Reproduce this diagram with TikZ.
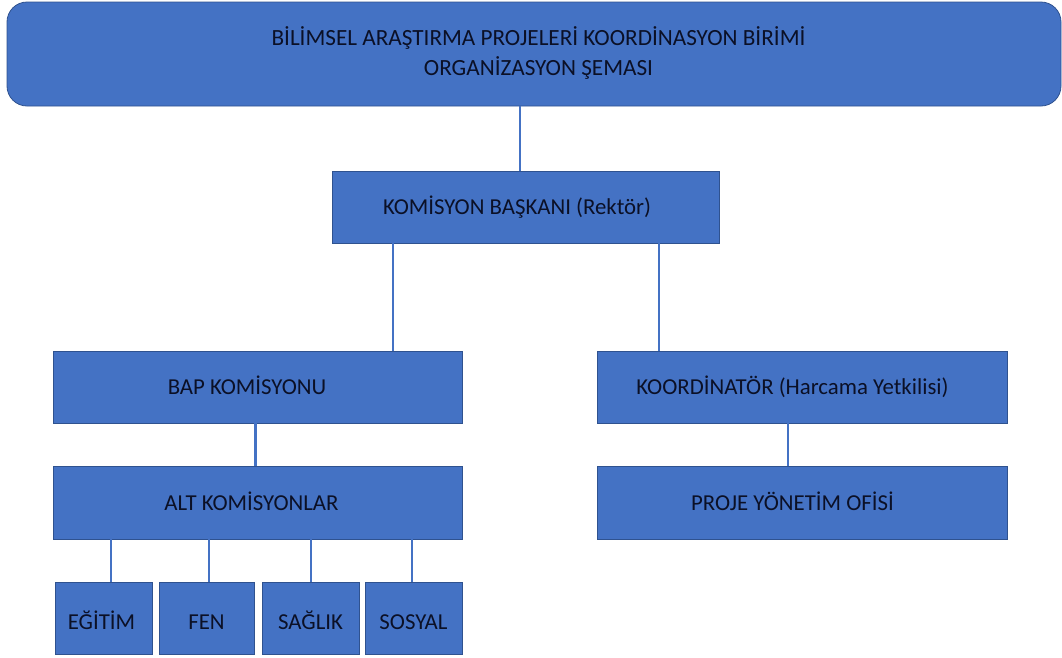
\documentclass[tikz,border=0pt]{standalone}
\usepackage{fontspec}
\setmainfont{Carlito}
\definecolor{boxfill}{HTML}{4472C4}
\definecolor{boxborder}{HTML}{2F528F}
\definecolor{txt}{HTML}{0B1026}
\begin{document}
\begin{tikzpicture}[x=1pt,y=-1pt,
  box/.style={draw=boxborder, line width=0.8pt, fill=boxfill, inner sep=0pt, rectangle},
  lbl/.style={text=txt, font=\fontsize{22.8}{27}\selectfont, inner sep=0pt, text height=15pt, text depth=0pt},
  ttl/.style={text=txt, font=\fontsize{23.2}{30}\selectfont, inner sep=0pt, align=center},
  link/.style={draw=boxfill, line width=2.5pt}]
\useasboundingbox (0,0) rectangle (1062,657);
% boxes
\node[box, rounded corners=20pt, minimum width=1054pt, minimum height=104pt,
      label={[ttl, name=titlet, xshift=4.5pt, yshift=1pt]center:BİLİMSEL ARAŞTIRMA PROJELERİ KOORDİNASYON BİRİMİ\\ORGANİZASYON ŞEMASI}] (title) at (534,54) {};
\node[box, minimum width=387pt, minimum height=72pt,
      label={[lbl, name=komt, xshift=-8.5pt]center:KOMİSYON BAŞKANI (Rektör)}] (kom) at (525.5,207) {};
\node[box, minimum width=409pt, minimum height=72pt,
      label={[lbl, name=bapt, xshift=-10.5pt]center:BAP KOMİSYONU}] (bap) at (257.5,387) {};
\node[box, minimum width=410pt, minimum height=72pt,
      label={[lbl, name=koordt, xshift=-9.5pt]center:KOORDİNATÖR (Harcama Yetkilisi)}] (koord) at (802,387) {};
\node[box, minimum width=409pt, minimum height=73pt,
      label={[lbl, name=altt, xshift=-6pt]center:ALT KOMİSYONLAR}] (alt) at (257.5,502.5) {};
\node[box, minimum width=410pt, minimum height=73pt,
      label={[lbl, name=projet, xshift=-9.5pt]center:PROJE YÖNETİM OFİSİ}] (proje) at (802,502.5) {};
\node[box, minimum width=97pt, minimum height=72pt,
      label={[lbl, name=egitimt, yshift=-4pt, xshift=-2pt]center:EĞİTİM}] (egitim) at (103.5,618) {};
\node[box, minimum width=95pt, minimum height=72pt,
      label={[lbl, name=fent, yshift=-4pt]center:FEN}] (fen) at (206.5,618) {};
\node[box, minimum width=97pt, minimum height=72pt,
      label={[lbl, name=saglikt, yshift=-4pt]center:SAĞLIK}] (saglik) at (310.5,618) {};
\node[box, minimum width=97pt, minimum height=72pt,
      label={[lbl, name=sosyalt, yshift=-4pt]center:SOSYAL}] (sosyal) at (413.5,618) {};
% connectors
\draw[link] ([xshift=-5.5pt]kom.north) -- ([xshift=-5.5pt]kom.north |- title.south);
\draw[link] ([xshift=135.5pt]bap.north) -- ([xshift=135.5pt]bap.north |- kom.south);
\draw[link] ([xshift=-143pt]koord.north) -- ([xshift=-143pt]koord.north |- kom.south);
\draw[link] ([xshift=-2pt]alt.north) -- ([xshift=-2pt]alt.north |- bap.south);
\draw[link] ([xshift=-14pt]proje.north) -- ([xshift=-14pt]proje.north |- koord.south);
\draw[link] ([xshift=7.5pt]egitim.north) -- ([xshift=7.5pt]egitim.north |- alt.south);
\draw[link] ([xshift=2.5pt]fen.north) -- ([xshift=2.5pt]fen.north |- alt.south);
\draw[link] ([xshift=0.5pt]saglik.north) -- ([xshift=0.5pt]saglik.north |- alt.south);
\draw[link] ([xshift=-1.5pt]sosyal.north) -- ([xshift=-1.5pt]sosyal.north |- alt.south);
\end{tikzpicture}
\end{document}
